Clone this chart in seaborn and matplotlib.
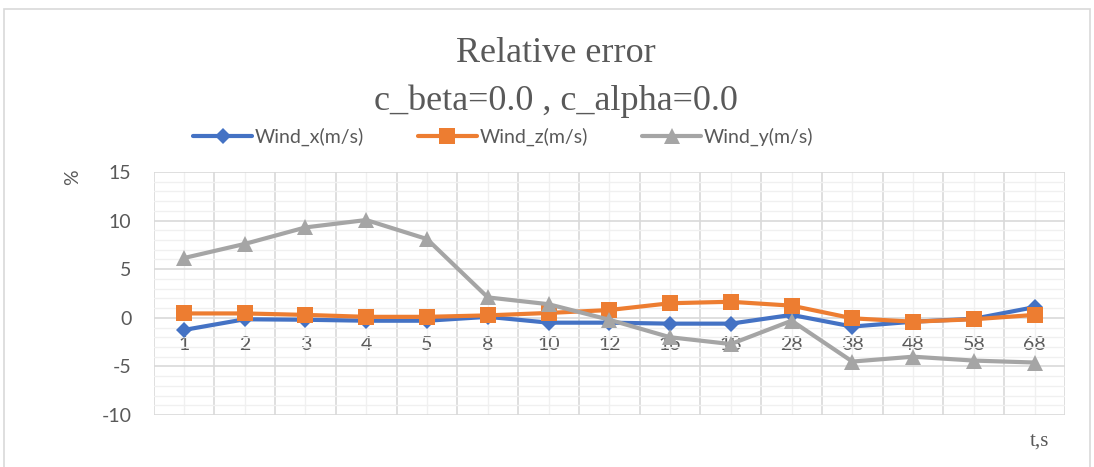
import matplotlib
matplotlib.use("Agg")
import matplotlib.pyplot as plt
import seaborn as sns
import pandas as pd
from matplotlib.patches import Rectangle
from matplotlib.ticker import MultipleLocator, FixedLocator

t_labels = ["1", "2", "3", "4", "5", "8", "10", "12", "16", "18", "28", "38", "48", "58", "68"]
wind_x = [-1.25, -0.15, -0.2, -0.3, -0.3, 0.1, -0.5, -0.5, -0.6, -0.6, 0.3, -0.9, -0.4, -0.1, 1.1]
wind_z = [0.45, 0.45, 0.3, 0.1, 0.1, 0.25, 0.5, 0.8, 1.5, 1.65, 1.25, -0.05, -0.4, -0.15, 0.3]
wind_y = [6.15, 7.6, 9.3, 10.06, 8.1, 2.1, 1.4, -0.2, -2.0, -2.7, -0.3, -4.5, -4.0, -4.4, -4.6]
series_names = ["Wind_x(m/s)", "Wind_z(m/s)", "Wind_y(m/s)"]

df = pd.DataFrame({"t": t_labels, series_names[0]: wind_x,
                   series_names[1]: wind_z, series_names[2]: wind_y})
long = df.melt(id_vars="t", var_name="series", value_name="err")
long["pos"] = long["t"].map({k: i for i, k in enumerate(t_labels)})

sns.set_theme(style="white")
plt.rcParams["font.family"] = ["Lato", "DejaVu Sans"]
plt.rcParams["axes.unicode_minus"] = False

fig = plt.figure(figsize=(10.94, 4.67), dpi=100)
ax = fig.add_axes([0.1404, 0.1113, 0.9735 - 0.1404, 0.6317 - 0.1113])

palette = {series_names[0]: "#4472C4", series_names[1]: "#ED7D31", series_names[2]: "#A5A5A5"}
markers = {series_names[0]: "D", series_names[1]: "s", series_names[2]: "^"}
sizes_m = {series_names[0]: 8, series_names[1]: 11, series_names[2]: 11}

for name in series_names:
    sub = long[long["series"] == name]
    sns.lineplot(data=sub, x="pos", y="err", ax=ax, color=palette[name],
                 marker=markers[name], markersize=sizes_m[name], markeredgewidth=0,
                 linewidth=3, label=name, legend=False, zorder=3, sort=False)

n = len(t_labels)
ax.set_xlim(-0.5, n - 0.5)
ax.set_ylim(-10, 15)
ax.yaxis.set_major_locator(MultipleLocator(5))
ax.yaxis.set_minor_locator(MultipleLocator(1))
ax.xaxis.set_major_locator(FixedLocator(list(range(n))))
ax.set_xticklabels(t_labels)
for b in range(n + 1):
    ax.axvline(b - 0.5, color="#d9d9d9", lw=1.2, zorder=0)
for c in range(n):
    ax.axvline(c, color="#f0f0f0", lw=1.0, zorder=0)
ax.grid(True, axis="y", which="major", color="#d9d9d9", lw=1.2, zorder=0)
ax.grid(True, axis="y", which="minor", color="#f0f0f0", lw=1.0, zorder=0)

for s in ["top", "right", "left"]:
    ax.spines[s].set_visible(False)
ax.spines["bottom"].set_position(("data", 0))
ax.spines["bottom"].set_visible(False)
ax.tick_params(axis="x", length=0, pad=13, labelsize=14, labelcolor="#595959")
ax.tick_params(axis="y", length=0, pad=16, labelsize=14, labelcolor="#595959")
ax.set_xlabel("")
ax.set_ylabel("")

fig.text(0.066, 0.62, "%", rotation=90, fontsize=14, color="#595959",
         ha="center", va="center")
fig.text(0.95, 0.056, "t,s", fontsize=15, color="#595959",
         family="Liberation Serif", ha="center", va="center")

fig.text(0.508, 0.885, "Relative error", fontsize=26, color="#595959",
         family="Liberation Serif", ha="center", va="center")
fig.text(0.508, 0.783, "c_beta=0.0 , c_alpha=0.0", fontsize=26, color="#595959",
         family="Liberation Serif", ha="center", va="center")

handles, labels = ax.get_legend_handles_labels()
fig.legend(handles, labels, loc="center", bbox_to_anchor=(0.46, 0.707), ncol=3,
           frameon=False, fontsize=14, labelcolor="#595959", handlelength=3.0,
           handletextpad=0.15, columnspacing=2.8)

fig.patches.append(Rectangle((0.004, -0.01), 0.992, 0.99, transform=fig.transFigure,
                             fill=False, edgecolor="#d9d9d9", lw=1.2))

fig.savefig("out.png", dpi=100)
